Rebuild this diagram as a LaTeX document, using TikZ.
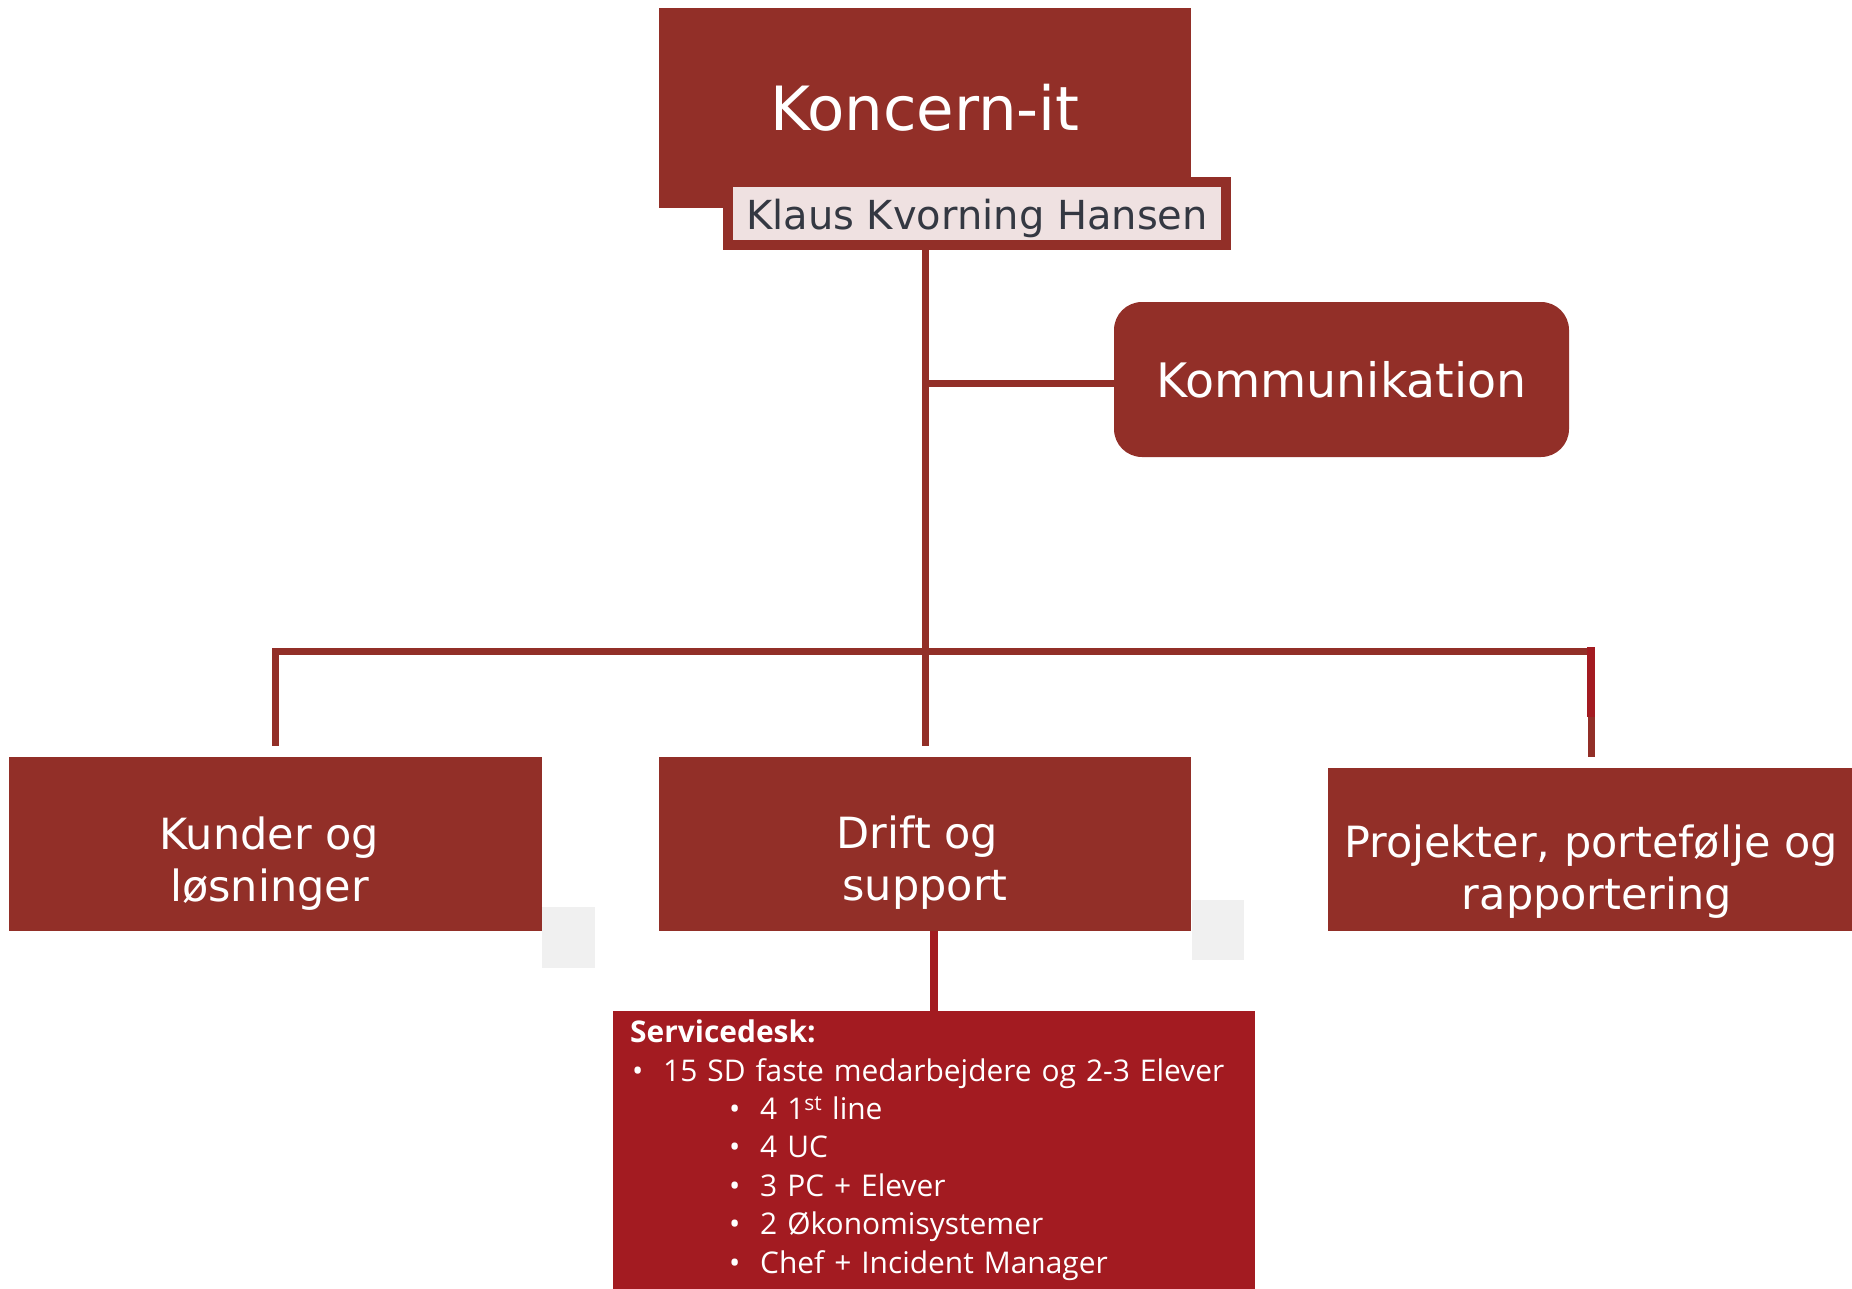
\documentclass[tikz,border=0pt]{standalone}
\usepackage{fontspec}
\newfontfamily\vfont{DejaVu Sans}
\newfontfamily\sdfont{Open Sans}
\usetikzlibrary{calc}
\definecolor{boxred}{RGB}{146,47,40}
\definecolor{sdred}{RGB}{163,27,33}
\definecolor{klausfill}{RGB}{239,225,225}
\definecolor{klaustext}{RGB}{52,56,66}
\definecolor{ghost}{RGB}{240,240,240}
\newcommand{\twoline}[3]{\raisebox{-#3}[\height][\depth]{\begin{tabular}{@{}c@{}}#1\\#2\end{tabular}}}
\newcommand{\bulA}{\hspace*{2pt}\makebox[31pt][l]{\textbullet}}
\newcommand{\bulB}{\hspace*{99pt}\makebox[31pt][l]{\textbullet}}
\begin{document}
\begin{tikzpicture}[x=1pt,y=-1pt,
  orgbox/.style={fill=boxred, draw=none, inner sep=0pt, text=white, font=\vfont\fontsize{43}{52}\selectfont},
  conn/.style={draw=boxred, line width=7pt},
  sdconn/.style={draw=sdred, line width=8pt}]
\useasboundingbox (0,0) rectangle (1852,1289);
\fill[white] (0,0) rectangle (1852,1289);
\fill[ghost] (542,907) rectangle (595,968);
\fill[ghost] (1192,900) rectangle (1244,960);

\node[orgbox, minimum width=532pt, minimum height=200pt, font=\vfont\fontsize{61}{73}\selectfont] (koncern) at (925,108) {Koncern-it};
\node[draw=boxred, line width=10pt, fill=klausfill, inner sep=0pt, minimum width=498pt, minimum height=63pt, text=klaustext, font=\vfont\fontsize{40}{48}\selectfont] (klaus) at (977,213.5) {\raisebox{-5pt}[\height][\depth]{Klaus Kvorning Hansen}};
\node[orgbox, rounded corners=28pt, minimum width=455pt, minimum height=155pt, font=\vfont\fontsize{47.5}{57}\selectfont] (komm) at (1341.5,379.5) {Kommunikation};

\node[orgbox, minimum width=533pt, minimum height=174pt] (kunder) at (275.5,844) {\hspace*{-12pt}\twoline{Kunder og}{løsninger}{21pt}};
\node[orgbox, minimum width=532pt, minimum height=174pt] (drift) at (925,844) {\twoline{\hspace*{-15pt}Drift og}{support}{20pt}};
\node[orgbox, minimum width=526pt, minimum height=163pt] (proj) at (1591,849.5) {\twoline{Projekter, portefølje og}{\hspace*{12pt}rapportering}{24pt}};

\node[fill=sdred, anchor=north west, inner xsep=17pt, inner ysep=0pt, text width=608pt, align=left, minimum height=278pt, text=white, font=\sdfont\fontsize{29.9}{38.4}\selectfont] (sd) at (613,1011) {%
{\bfseries Servicedesk:}\\
\bulA 15 SD faste medarbejdere og 2-3 Elever\\
\bulB 4 1\textsuperscript{st} line\\
\bulB 4 UC\\
\bulB 3 PC + Elever\\
\bulB 2 Økonomisystemer\\
\bulB Chef + Incident Manager};

\coordinate (bus) at (925,651);
\draw[conn] (koncern.south |- klaus.south) -- ($(drift.north)+(0,-11)$);
\draw[conn] ($(koncern.south |- komm.west)+(0,4)$) -- ($(komm.west)+(0,4)$);
\draw[conn, line join=miter] ($(kunder.north)+(0,-11)$) -- (kunder.north |- bus) -- (proj.north |- bus) -- ($(proj.north)+(0,-11)$);
\draw[sdconn] ($(proj.north |- bus)+(0,-4)$) -- ($(proj.north |- bus)+(0,66)$);
\draw[sdconn] (sd.north |- drift.south) -- (sd.north);
\end{tikzpicture}
\end{document}
